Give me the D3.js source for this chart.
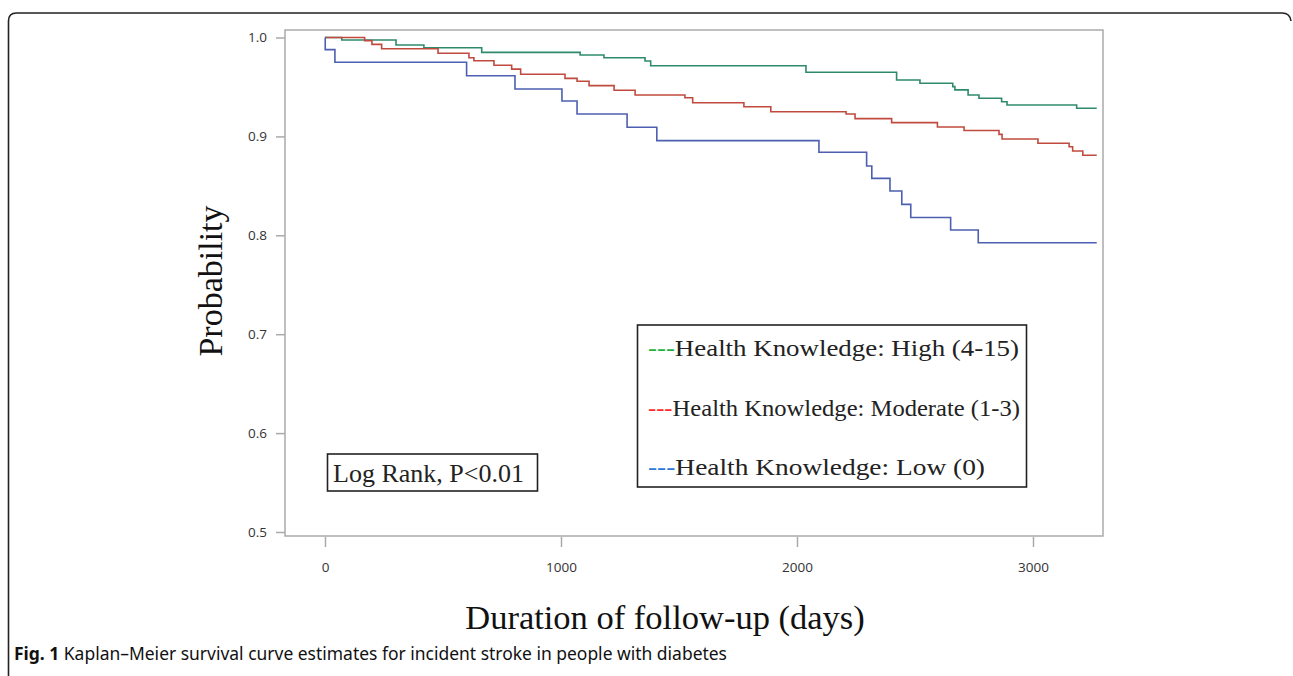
<!DOCTYPE html>
<html>
<head>
<meta charset="utf-8">
<script src="https://cdn.jsdelivr.net/npm/d3@7"></script>
<style>
    body { margin: 0; background: #fff; }
    svg { display: block; }
</style>
</head>
<body>
<svg id="km-chart" width="1293" height="676"></svg>
<script>
// tick values
const xTicks = [0, 1000, 2000, 3000];
const yTicks = [0.5, 0.6, 0.7, 0.8, 0.9, 1.0];

// step times (days) and survival after each step
const highDays = [0, 71, 301, 419, 664, 1081, 1182, 1356, 1380, 2038, 2422, 2521, 2660, 2669, 2725, 2771, 2867, 2890, 3185, 3270];
const highSurv = [1.0, 0.9975, 0.9924, 0.9897, 0.985, 0.9823, 0.9796, 0.9762, 0.9715, 0.9648, 0.957, 0.9537, 0.9503, 0.947, 0.9419, 0.9385, 0.935, 0.9317, 0.9284, 0.9284];

const modDays = [0, 168, 199, 240, 479, 610, 631, 716, 791, 829, 1017, 1068, 1119, 1225, 1314, 1525, 1558, 1775, 1889, 2208, 2246, 2401, 2595, 2708, 2856, 2869, 3021, 3153, 3168, 3211, 3270];
const modSurv = [1.0, 0.9968, 0.993, 0.9887, 0.984, 0.9796, 0.9765, 0.972, 0.968, 0.9628, 0.9587, 0.9557, 0.9513, 0.9466, 0.9419, 0.9391, 0.934, 0.930, 0.925, 0.9227, 0.918, 0.9139, 0.9095, 0.906, 0.902, 0.8974, 0.893, 0.8896, 0.8853, 0.881, 0.881];

const lowDays = [0, 1, 42, 600, 805, 1004, 1068, 1280, 1406, 2093, 2295, 2317, 2394, 2444, 2482, 2651, 2768, 3270];
const lowSurv = [1.0, 0.9877, 0.975, 0.9614, 0.948, 0.9358, 0.9227, 0.9092, 0.8957, 0.884, 0.870, 0.8576, 0.8448, 0.8313, 0.818, 0.8054, 0.7925, 0.7925];

const groupNames = ["Health Knowledge: High (4-15)", "Health Knowledge: Moderate (1-3)", "Health Knowledge: Low (0)"];
const lineColors = ["#2f8a6c", "#c04a3e", "#4c5fb0"];
const dashColors = ["#22b040", "#ff2a2a", "#2a78d8"];

let svg = d3.select("#km-chart");

// outer figure frame (rounded top, right side cut off)
svg.append("path")
    .attr("d", "M8.5,676 L8.5,21 Q8.5,13 16.5,13 L1282,13 Q1290,13 1291,21")
    .attr("fill", "none")
    .attr("stroke", "#222")
    .attr("stroke-width", 1.6);

let plot = { left: 285, top: 30, right: 1103, bottom: 536 };

let x = d3.scaleLinear().domain([0, 3000]).range([325, 1033]);
let y = d3.scaleLinear().domain([0.5, 1.0]).range([532, 37.5]);

// plot frame
svg.append("rect")
    .attr("x", plot.left)
    .attr("y", plot.top)
    .attr("width", plot.right - plot.left)
    .attr("height", plot.bottom - plot.top)
    .attr("fill", "none")
    .attr("stroke", "#aaa")
    .attr("stroke-width", 1.5);

// axes
let yAxis = svg.append("g")
    .attr("transform", "translate(" + plot.left + ",0)")
    .call(d3.axisLeft(y).tickValues(yTicks).tickSize(9).tickPadding(9).tickFormat(d3.format(".1f")));
let xAxis = svg.append("g")
    .attr("transform", "translate(0," + (plot.bottom + 1) + ")")
    .call(d3.axisBottom(x).tickValues(xTicks).tickSize(10).tickPadding(15).tickFormat(d3.format("d")));

[yAxis, xAxis].forEach(function(ax) {
    ax.select(".domain").remove();
    ax.selectAll("line").attr("stroke", "#aaa").attr("stroke-width", 1.5);
    ax.selectAll("text")
        .attr("fill", "#333")
        .style("font-family", "'Open Sans', sans-serif")
        .style("font-size", "13.5px");
});

// survival curves
let series = [
    { days: highDays, surv: highSurv },
    { days: modDays, surv: modSurv },
    { days: lowDays, surv: lowSurv }
];
let stepLine = d3.line()
    .x(function(d) { return x(d[0]); })
    .y(function(d) { return y(d[1]); })
    .curve(d3.curveStepAfter);

series.forEach(function(s, i) {
    let pts = s.days.map(function(t, k) { return [t, s.surv[k]]; });
    svg.append("path")
        .datum(pts)
        .attr("fill", "none")
        .attr("stroke", lineColors[i])
        .attr("stroke-width", 1.6)
        .attr("d", stepLine);
});

// axis titles
svg.append("text")
    .attr("transform", "translate(222,281) rotate(-90)")
    .attr("text-anchor", "middle")
    .attr("fill", "#111")
    .style("font-family", "'Liberation Serif', 'Times New Roman', serif")
    .style("font-size", "34px")
    .text("Probability");

svg.append("text")
    .attr("x", 665)
    .attr("y", 629)
    .attr("text-anchor", "middle")
    .attr("fill", "#111")
    .style("font-family", "'Liberation Serif', 'Times New Roman', serif")
    .style("font-size", "34.5px")
    .text("Duration of follow-up (days)");

// legend box
svg.append("rect")
    .attr("x", 637.5).attr("y", 325)
    .attr("width", 389).attr("height", 162)
    .attr("fill", "#fff")
    .attr("stroke", "#222")
    .attr("stroke-width", 1.6);

// the legend text in the figure is stretched sideways, so fit each row to its width
let legendY = [356, 416, 475];
let legendWidth = [371, 372, 337];
groupNames.forEach(function(name, i) {
    let t = svg.append("text")
        .attr("x", 648)
        .attr("y", legendY[i])
        .attr("fill", "#222")
        .attr("textLength", legendWidth[i])
        .attr("lengthAdjust", "spacingAndGlyphs")
        .style("font-family", "'Liberation Serif', 'Times New Roman', serif")
        .style("font-size", "23px");
    t.append("tspan").attr("fill", dashColors[i]).text("---");
    t.append("tspan").text(name);
});

// log rank annotation
svg.append("rect")
    .attr("x", 327.5).attr("y", 454)
    .attr("width", 210).attr("height", 37)
    .attr("fill", "#fff")
    .attr("stroke", "#222")
    .attr("stroke-width", 1.6);
svg.append("text")
    .attr("x", 333)
    .attr("y", 482)
    .attr("fill", "#222")
    .style("font-family", "'Liberation Serif', 'Times New Roman', serif")
    .style("font-size", "26px")
    .text("Log Rank, P<0.01");

// figure caption
let caption = svg.append("text")
    .attr("x", 14)
    .attr("y", 660)
    .attr("fill", "#111")
    .attr("textLength", 713)
    .attr("lengthAdjust", "spacingAndGlyphs")
    .style("font-family", "'Noto Sans', sans-serif")
    .style("font-size", "18px");
caption.append("tspan").style("font-weight", "bold").text("Fig. 1");
caption.append("tspan").text(" Kaplan–Meier survival curve estimates for incident stroke in people with diabetes");
</script>
</body>
</html>
